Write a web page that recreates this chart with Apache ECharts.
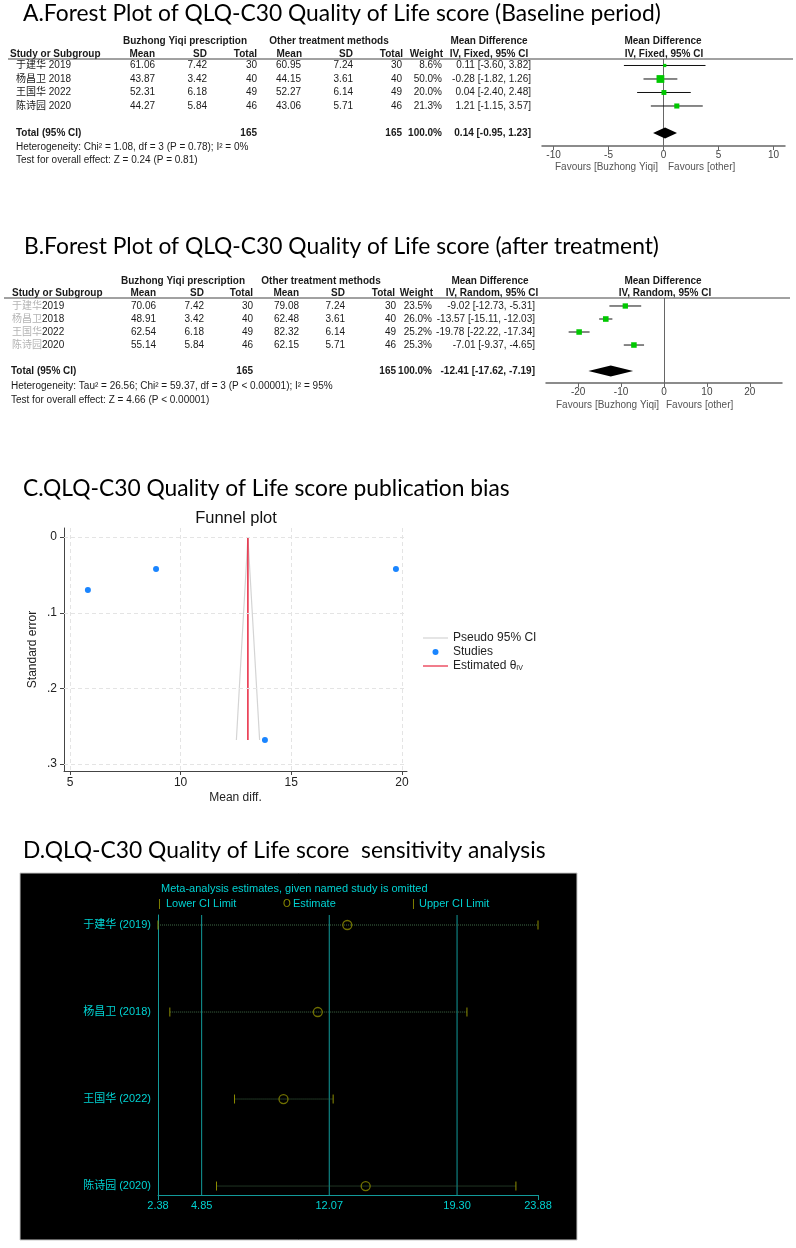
<!DOCTYPE html>
<html>
<head>
<meta charset="utf-8">
<script src="https://cdn.jsdelivr.net/npm/echarts@6/dist/echarts.min.js"></script>
<style>
html, body { margin: 0; padding: 0; background: #fff; }
#main { width: 796px; height: 1248px; }
</style>
</head>
<body>
<div id="main"></div>
<script>
// ---- A. baseline period
var studiesA = ['于建华 2019', '杨昌卫 2018', '王国华 2022', '陈诗园 2020'];
var meanExpA = [61.06, 43.87, 52.31, 44.27];
var sdExpA = [7.42, 3.42, 6.18, 5.84];
var nExpA = [30, 40, 49, 46];
var meanCtlA = [60.95, 44.15, 52.27, 43.06];
var sdCtlA = [7.24, 3.61, 6.14, 5.71];
var nCtlA = [30, 40, 49, 46];
var weightA = [8.6, 50.0, 20.0, 21.3];
var mdA = [0.11, -0.28, 0.04, 1.21];
var loA = [-3.60, -1.82, -2.40, -1.15];
var hiA = [3.82, 1.26, 2.48, 3.57];
var totalNA = [165, 165];
var totalMdA = [0.14, -0.95, 1.23];
var ticksA = [-10, -5, 0, 5, 10];
var hetA = 'Heterogeneity: Chi\u00b2 = 1.08, df = 3 (P = 0.78); I\u00b2 = 0%';
var testA = 'Test for overall effect: Z = 0.24 (P = 0.81)';

// ---- B. after treatment
var namesB = ['于建华', '杨昌卫', '王国华', '陈诗园'];
var yearsB = ['2019', '2018', '2022', '2020'];
var meanExpB = [70.06, 48.91, 62.54, 55.14];
var sdExpB = [7.42, 3.42, 6.18, 5.84];
var nExpB = [30, 40, 49, 46];
var meanCtlB = [79.08, 62.48, 82.32, 62.15];
var sdCtlB = [7.24, 3.61, 6.14, 5.71];
var nCtlB = [30, 40, 49, 46];
var weightB = [23.5, 26.0, 25.2, 25.3];
var mdB = [-9.02, -13.57, -19.78, -7.01];
var loB = [-12.73, -15.11, -22.22, -9.37];
var hiB = [-5.31, -12.03, -17.34, -4.65];
var totalNB = [165, 165];
var totalMdB = [-12.41, -17.62, -7.19];
var ticksB = [-20, -10, 0, 10, 20];
var hetB = 'Heterogeneity: Tau\u00b2 = 26.56; Chi\u00b2 = 59.37, df = 3 (P < 0.00001); I\u00b2 = 95%';
var testB = 'Test for overall effect: Z = 4.66 (P < 0.00001)';

// ---- C. funnel plot
var funnelMd = [5.81, 8.89, 19.73, 13.81];
var funnelSe = [0.070, 0.042, 0.042, 0.268];
var thetaIV = 13.04;
var seMax = 0.268;
var pseudoLo = 12.52;
var pseudoHi = 13.57;
var ticksCx = [5, 10, 15, 20];
var ticksCy = [0, 0.1, 0.2, 0.3];

// ---- D. sensitivity analysis
var studiesD = ['于建华 (2019)', '杨昌卫 (2018)', '王国华 (2022)', '陈诗园 (2020)'];
var lowD = [2.38, 3.05, 6.71, 5.69];
var estD = [13.09, 11.42, 9.48, 14.13];
var upD = [23.88, 19.86, 12.29, 22.63];
var overallD = [4.85, 12.07, 19.30];
var ticksD = [2.38, 4.85, 12.07, 19.30, 23.88];

var FONT = '"Liberation Sans", Arial, "Noto Sans CJK SC", sans-serif';
var TITLE_FONT = 'Lato, "Noto Sans", sans-serif';
var INK = '#1a1a1a';
var GREEN = '#00c800';
var CYAN = '#00d2d2';
var TEAL = '#129a9a';
var OLIVE = '#8c8c00';
// thin line icon for the legend (extra move-tos keep the box 6px tall)
var LINE_ICON = 'path://M0,2.4L25,2.4L25,3.6L0,3.6Z M0,0 M25,6';

var graphics = [];
function txt(x, y, s, o) {
    o = o || {};
    graphics.push({
        type: 'text', x: x, y: y, silent: true, z: 10,
        style: {
            text: s, fill: o.fill || INK, fontSize: o.size || 10,
            fontFamily: o.family || FONT, fontWeight: o.bold ? 'bold' : 'normal',
            align: o.align || 'left', textAlign: o.align || 'left',
            verticalAlign: 'middle', textVerticalAlign: 'middle', rich: o.rich
        }
    });
}
function hline(x1, x2, y, color) {
    graphics.push({ type: 'line', silent: true, z: 10, shape: { x1: x1, y1: y, x2: x2, y2: y },
        style: { stroke: color || '#444', lineWidth: 1 } });
}

function ci(m, l, h) {
    return m.toFixed(2) + ' [' + l.toFixed(2) + ', ' + h.toFixed(2) + ']';
}

// table rows built from the arrays
function buildRows(names, m1, s1, n1, m2, s2, n2, w, md, lo, hi, totN, totMd) {
    var rows = names.map(function (nm, i) {
        return [nm, m1[i].toFixed(2), s1[i].toFixed(2), String(n1[i]), m2[i].toFixed(2),
            s2[i].toFixed(2), String(n2[i]), w[i].toFixed(1) + '%', ci(md[i], lo[i], hi[i])];
    });
    rows.push(['Total (95% CI)', '', '', String(totN[0]), '', '', String(totN[1]), '100.0%',
        ci(totMd[0], totMd[1], totMd[2])]);
    return rows;
}
var rowsA = buildRows(studiesA, meanExpA, sdExpA, nExpA, meanCtlA, sdCtlA, nCtlA, weightA, mdA, loA, hiA, totalNA, totalMdA);
var rowsB = buildRows(namesB.map(function (n, i) { return '{g|' + n + '}' + yearsB[i]; }),
    meanExpB, sdExpB, nExpB, meanCtlB, sdCtlB, nCtlB, weightB, mdB, loB, hiB, totalNB, totalMdB);

var colsA = [16, 155, 207, 257, 301, 353, 402, 442, 531];
var colsB = [12, 156, 204, 253, 299, 345, 396, 432, 535];

function tableSeries(idx, rows, cols, totalX) {
    var n = rows.length - 1;
    return {
        type: 'custom', xAxisIndex: idx, yAxisIndex: idx, clip: false, silent: true, z: 5,
        data: rows.map(function (r, i) { return [0, i < n ? i + 1 : n + 2, i]; }),
        renderItem: function (params, api) {
            var i = api.value(2);
            var y = api.coord([0, api.value(1)])[1];
            var isTotal = i === n;
            var r = rows[i];
            return {
                type: 'group',
                children: r.map(function (s, k) {
                    return {
                        type: 'text', x: k === 0 ? (isTotal ? totalX : cols[0]) : cols[k], y: y,
                        style: {
                            text: s, fill: INK, fontSize: 10, fontFamily: FONT,
                            fontWeight: isTotal ? 'bold' : 'normal',
                            align: k === 0 ? 'left' : 'right', verticalAlign: 'middle',
                            rich: { g: { fill: '#b4b4b4', fontSize: 10, fontFamily: FONT } }
                        }
                    };
                })
            };
        }
    };
}

function forestSeries(idx, md, lo, hi, w) {
    return {
        type: 'custom', xAxisIndex: idx, yAxisIndex: idx, clip: false, silent: true, z: 6,
        data: md.map(function (m, i) { return [m, lo[i], hi[i], i + 1, w[i]]; }),
        renderItem: function (params, api) {
            var row = api.value(3);
            var a = api.coord([api.value(1), row]);
            var b = api.coord([api.value(2), row]);
            var p = api.coord([api.value(0), row]);
            var s = 1.1 * Math.sqrt(api.value(4));
            return {
                type: 'group', children: [
                    { type: 'line', shape: { x1: a[0], y1: a[1], x2: b[0], y2: b[1] }, style: { stroke: '#111', lineWidth: 1 } },
                    { type: 'rect', shape: { x: p[0] - s / 2, y: p[1] - s / 2, width: s, height: s }, style: { fill: GREEN } }
                ]
            };
        },
        markLine: {
            silent: true, symbol: 'none', label: { show: false },
            lineStyle: { color: '#666', width: 1, type: 'solid' },
            data: [{ xAxis: 0 }]
        }
    };
}

function diamondSeries(idx, tot, row) {
    return {
        type: 'custom', xAxisIndex: idx, yAxisIndex: idx, clip: false, silent: true, z: 6,
        data: [[tot[0], tot[1], tot[2], row]],
        renderItem: function (params, api) {
            var r = api.value(3);
            var c = api.coord([api.value(0), r]);
            var l = api.coord([api.value(1), r]);
            var h = api.coord([api.value(2), r]);
            return {
                type: 'polygon',
                shape: { points: [[l[0], c[1]], [c[0], c[1] - 5.5], [h[0], c[1]], [c[0], c[1] + 5.5]] },
                style: { fill: '#000' }
            };
        }
    };
}

function forestX(idx, min, max, ticks) {
    return {
        gridIndex: idx, type: 'value', min: min, max: max,
        axisLine: { onZero: false, lineStyle: { color: '#666', width: 1.5 } },
        axisTick: { customValues: ticks, length: 4, lineStyle: { color: '#666', width: 1 } },
        axisLabel: { customValues: ticks, margin: 4, color: '#444', fontSize: 10, fontFamily: FONT },
        splitLine: { show: false }
    };
}
function forestY(idx, min, max) {
    return { gridIndex: idx, type: 'value', min: min, max: max, inverse: true, show: false, splitLine: { show: false } };
}

// ---- titles
var TS = { size: 22.8, family: TITLE_FONT, fill: '#000' };
txt(23, 14, 'A.Forest Plot of QLQ-C30 Quality of Life score (Baseline period)', TS);
txt(24, 247, 'B.Forest Plot of QLQ-C30 Quality of Life score (after treatment)', TS);
txt(23, 489, 'C.QLQ-C30 Quality of Life score publication bias', TS);
txt(23, 851, 'D.QLQ-C30 Quality of Life score  sensitivity analysis', TS);

// ---- A headers
txt(185, 41, 'Buzhong Yiqi prescription', { bold: true, align: 'center' });
txt(329, 41, 'Other treatment methods', { bold: true, align: 'center' });
txt(489, 41, 'Mean Difference', { bold: true, align: 'center' });
txt(663, 41, 'Mean Difference', { bold: true, align: 'center' });
txt(10, 54, 'Study or Subgroup', { bold: true });
txt(155, 54, 'Mean', { bold: true, align: 'right' });
txt(207, 54, 'SD', { bold: true, align: 'right' });
txt(257, 54, 'Total', { bold: true, align: 'right' });
txt(302, 54, 'Mean', { bold: true, align: 'right' });
txt(353, 54, 'SD', { bold: true, align: 'right' });
txt(403, 54, 'Total', { bold: true, align: 'right' });
txt(443, 54, 'Weight', { bold: true, align: 'right' });
txt(489, 54, 'IV, Fixed, 95% CI', { bold: true, align: 'center' });
txt(664, 54, 'IV, Fixed, 95% CI', { bold: true, align: 'center' });
hline(8, 793, 59);
txt(16, 147, hetA);
txt(16, 160, testA);
txt(658, 167, 'Favours [Buzhong Yiqi]', { align: 'right', fill: '#555' });
txt(668, 167, 'Favours [other]', { fill: '#555' });

// ---- B headers
txt(183, 281, 'Buzhong Yiqi prescription', { bold: true, align: 'center' });
txt(321, 281, 'Other treatment methods', { bold: true, align: 'center' });
txt(490, 281, 'Mean Difference', { bold: true, align: 'center' });
txt(663, 281, 'Mean Difference', { bold: true, align: 'center' });
txt(12, 293, 'Study or Subgroup', { bold: true });
txt(156, 293, 'Mean', { bold: true, align: 'right' });
txt(204, 293, 'SD', { bold: true, align: 'right' });
txt(253, 293, 'Total', { bold: true, align: 'right' });
txt(299, 293, 'Mean', { bold: true, align: 'right' });
txt(345, 293, 'SD', { bold: true, align: 'right' });
txt(395, 293, 'Total', { bold: true, align: 'right' });
txt(433, 293, 'Weight', { bold: true, align: 'right' });
txt(492, 293, 'IV, Random, 95% CI', { bold: true, align: 'center' });
txt(665, 293, 'IV, Random, 95% CI', { bold: true, align: 'center' });
hline(4, 790, 298);
txt(11, 386, hetB);
txt(11, 400, testB);
txt(659, 405, 'Favours [Buzhong Yiqi]', { align: 'right', fill: '#555' });
txt(666, 405, 'Favours [other]', { fill: '#555' });

// ---- C title inside plot
txt(236, 518, 'Funnel plot', { size: 16.5, align: 'center', fill: '#111' });

// ---- D black panel and legend
graphics.unshift({ type: 'rect', silent: true, z: -10, shape: { x: 20, y: 873, width: 557, height: 367 },
    style: { fill: '#000', stroke: '#c8c8c8', lineWidth: 1 } });
txt(161, 889, 'Meta-analysis estimates, given named study is omitted', { size: 11, fill: CYAN });
txt(158, 904, '|', { size: 11, fill: OLIVE });
txt(166, 904, 'Lower CI Limit', { size: 11, fill: CYAN });
txt(283, 904, 'O', { size: 10, fill: OLIVE });
txt(293, 904, 'Estimate', { size: 11, fill: CYAN });
txt(412, 904, '|', { size: 11, fill: OLIVE });
txt(419, 904, 'Upper CI Limit', { size: 11, fill: CYAN });

var chart = echarts.init(document.getElementById('main'));
chart.setOption({
    backgroundColor: '#fff',
    animation: false,
    graphic: { elements: graphics },
    grid: [
        { left: 542, top: 59, width: 243, height: 87 },
        { left: 546, top: 298, width: 236, height: 85 },
        { left: 64, top: 528, width: 343, height: 243 },
        { left: 158, top: 915, width: 380, height: 280 }
    ],
    legend: {
        data: [
            { name: 'Pseudo 95% CI', icon: LINE_ICON },
            { name: 'Studies', icon: 'circle' },
            { name: 'Estimated \u03b8IV', icon: LINE_ICON }
        ],
        orient: 'vertical', left: 418, top: 627, itemWidth: 25, itemHeight: 6, itemGap: 2,
        selectedMode: false,
        formatter: function (n) { return n === 'Estimated \u03b8IV' ? 'Estimated \u03b8{s|IV}' : n; },
        textStyle: {
            color: '#222', fontSize: 12, fontFamily: FONT,
            rich: { s: { fontSize: 7, fontFamily: FONT, color: '#222', verticalAlign: 'bottom' } }
        }
    },
    xAxis: [
        forestX(0, -11.05, 11.05, ticksA),
        forestX(1, -27.5, 27.5, ticksB),
        {
            gridIndex: 2, type: 'value', min: 4.73, max: 20.23,
            name: 'Mean diff.', nameLocation: 'middle', nameGap: 21,
            nameTextStyle: { color: '#222', fontSize: 12, fontFamily: FONT },
            axisLine: { onZero: false, lineStyle: { color: '#444', width: 1 } },
            axisTick: { customValues: ticksCx, length: 4, lineStyle: { color: '#444' } },
            axisLabel: { customValues: ticksCx, margin: 6, color: '#222', fontSize: 12, fontFamily: FONT },
            splitLine: { show: false }
        },
        {
            gridIndex: 3, type: 'value', min: 2.38, max: 23.88,
            axisLine: { onZero: false, lineStyle: { color: TEAL, width: 1 } },
            axisTick: { customValues: [2.38, 23.88], length: 5, lineStyle: { color: TEAL } },
            axisLabel: {
                customValues: ticksD, margin: 5, color: CYAN, fontSize: 11, fontFamily: FONT,
                formatter: function (v) { return v.toFixed(2); }
            },
            splitLine: { show: false }
        }
    ],
    yAxis: [
        forestY(0, 0.519, 6.963),
        forestY(1, 0.385, 6.92),
        {
            gridIndex: 2, type: 'value', min: -0.012, max: 0.309, inverse: true,
            name: 'Standard error', nameLocation: 'middle', nameGap: 25, nameRotate: 90,
            nameTextStyle: { color: '#222', fontSize: 12, fontFamily: FONT },
            axisLine: { show: true, onZero: false, lineStyle: { color: '#444', width: 1 } },
            axisTick: { show: true, customValues: ticksCy, length: 4, lineStyle: { color: '#444' } },
            axisLabel: {
                customValues: ticksCy, margin: 7, color: '#222', fontSize: 12, fontFamily: FONT,
                formatter: function (v) { return v === 0 ? '0' : String(v).replace('0.', '.'); }
            },
            splitLine: { show: false }
        },
        {
            gridIndex: 3, type: 'value', min: 0.885, max: 4.103, inverse: true,
            axisLine: { show: true, onZero: false, lineStyle: { color: TEAL, width: 1 } },
            axisTick: { show: false },
            axisLabel: {
                customValues: [1, 2, 3, 4], margin: 7, color: CYAN, fontSize: 11, fontFamily: FONT,
                formatter: function (v) { return studiesD[Math.round(v) - 1] || ''; }
            },
            splitLine: { show: false }
        }
    ],
    series: [
        tableSeries(0, rowsA, colsA, 16),
        forestSeries(0, mdA, loA, hiA, weightA),
        diamondSeries(0, totalMdA, studiesA.length + 2),
        tableSeries(1, rowsB, colsB, 11),
        forestSeries(1, mdB, loB, hiB, weightB),
        diamondSeries(1, totalMdB, namesB.length + 2),
        {
            name: 'Pseudo 95% CI', type: 'line', xAxisIndex: 2, yAxisIndex: 2,
            data: [[pseudoLo, seMax], [thetaIV, 0], [pseudoHi, seMax]],
            symbol: 'none', lineStyle: { color: '#d4d4d4', width: 1.2 }, itemStyle: { color: '#d4d4d4' },
            markLine: {
                silent: true, symbol: 'none', label: { show: false },
                lineStyle: { color: '#e4e4e4', width: 1, type: [4, 3] },
                data: ticksCx.map(function (v) { return { xAxis: v }; })
                    .concat(ticksCy.map(function (v) { return { yAxis: v }; }))
            },
            z: 3
        },
        {
            name: 'Studies', type: 'scatter', xAxisIndex: 2, yAxisIndex: 2,
            data: funnelMd.map(function (m, i) { return [m, funnelSe[i]]; }),
            symbolSize: 6, itemStyle: { color: '#1a85ff', opacity: 1 }, z: 5
        },
        {
            name: 'Estimated \u03b8IV', type: 'line', xAxisIndex: 2, yAxisIndex: 2,
            data: [[thetaIV, 0], [thetaIV, seMax]],
            symbol: 'none', lineStyle: { color: '#e8263f', width: 1.5 }, itemStyle: { color: '#e8263f' }, z: 4
        },
        {
            // overall estimate and its CI, drawn as full-height lines
            type: 'custom', xAxisIndex: 3, yAxisIndex: 3, silent: true, z: 3,
            data: overallD.map(function (v) { return [v, 1]; }),
            renderItem: function (params, api) {
                var x = api.coord([api.value(0), 1])[0];
                var cs = params.coordSys;
                return { type: 'line', shape: { x1: x, y1: cs.y, x2: x, y2: cs.y + cs.height },
                    style: { stroke: TEAL, lineWidth: 1 } };
            }
        },
        {
            type: 'custom', xAxisIndex: 3, yAxisIndex: 3, silent: true, clip: false, z: 4,
            data: lowD.map(function (l, i) { return [l, upD[i], i + 1]; }),
            renderItem: function (params, api) {
                var a = api.coord([api.value(0), api.value(2)]);
                var b = api.coord([api.value(1), api.value(2)]);
                return {
                    type: 'group', children: [
                        { type: 'line', shape: { x1: a[0], y1: a[1], x2: b[0], y2: b[1] }, style: { stroke: '#3f6a46', lineWidth: 1, lineDash: [1, 1] } },
                        { type: 'line', shape: { x1: a[0], y1: a[1] - 4.5, x2: a[0], y2: a[1] + 4.5 }, style: { stroke: OLIVE, lineWidth: 1 } },
                        { type: 'line', shape: { x1: b[0], y1: b[1] - 4.5, x2: b[0], y2: b[1] + 4.5 }, style: { stroke: OLIVE, lineWidth: 1 } }
                    ]
                };
            }
        },
        {
            type: 'scatter', xAxisIndex: 3, yAxisIndex: 3, silent: true, z: 5,
            data: estD.map(function (e, i) { return [e, i + 1]; }),
            symbol: 'circle', symbolSize: 9,
            itemStyle: { color: 'rgba(0,0,0,0)', borderColor: OLIVE, borderWidth: 1.3 }
        }
    ]
});
</script>
</body>
</html>
